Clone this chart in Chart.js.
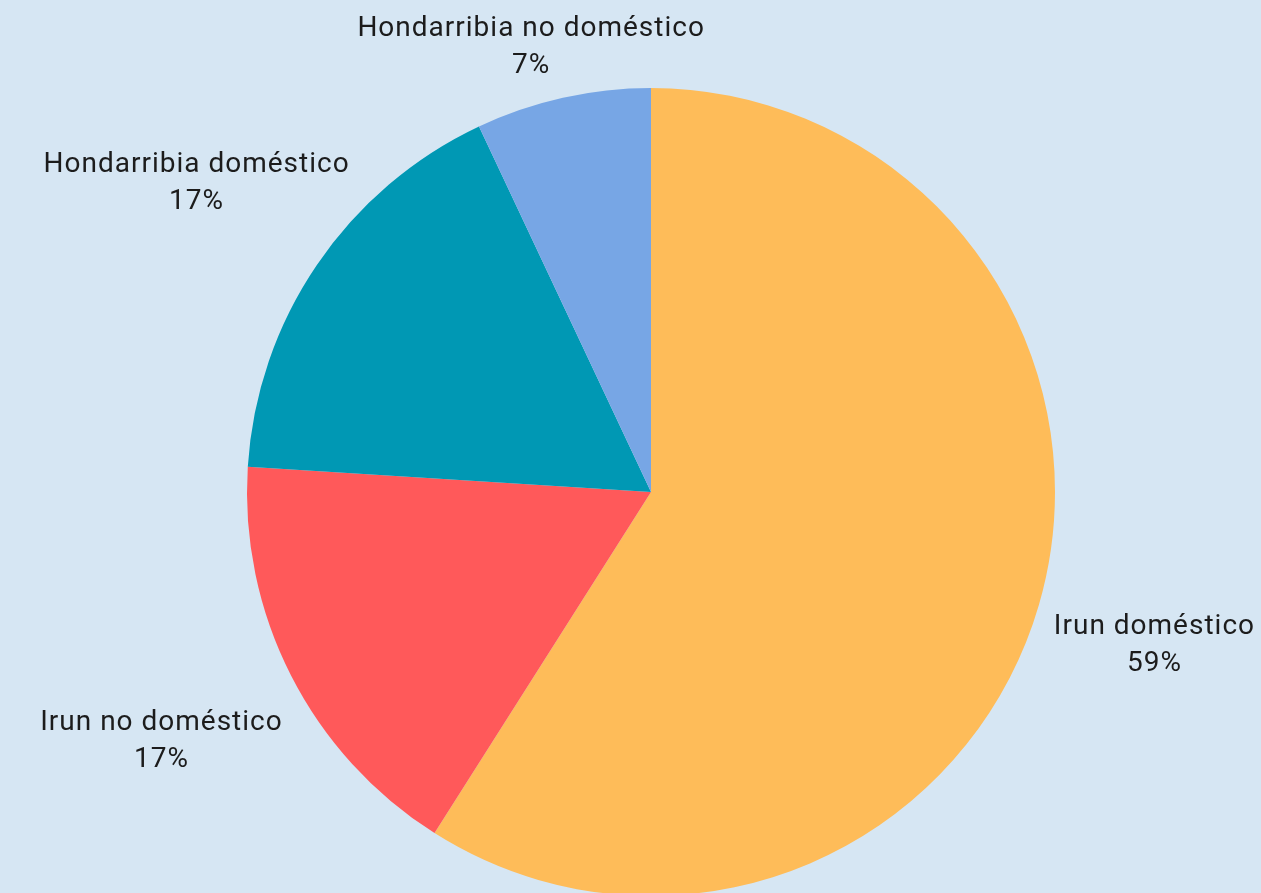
<!DOCTYPE html>
<html>
<head>
<meta charset="utf-8">
<script src="https://cdn.jsdelivr.net/npm/chart.js@4"></script>
<style>
    html, body { margin: 0; padding: 0; overflow: hidden; background: #d6e6f3; }
    #wrap { width: 1261px; height: 900px; position: relative; }
</style>
</head>
<body>
<div id="wrap"><canvas id="pieChart"></canvas></div>
<script>
// data
const labels = ['Irun doméstico', 'Irun no doméstico', 'Hondarribia doméstico', 'Hondarribia no doméstico'];
const values = [59, 17, 17, 7];
const colors = ['#febc59', '#ff595a', '#0098b4', '#77a6e5'];

// labels outside each slice: name on first line, percent under it
const outsideLabels = {
    id: 'outsideLabels',
    afterDatasetsDraw(chart) {
        const { ctx } = chart;
        const meta = chart.getDatasetMeta(0);
        const total = values.reduce((a, b) => a + b, 0);
        ctx.save();
        ctx.font = '28px Roboto, "Noto Sans", sans-serif';
        ctx.letterSpacing = '1px';
        ctx.fillStyle = '#1c1c1c';
        ctx.textAlign = 'center';
        ctx.textBaseline = 'middle';
        const lineH = 37;
        meta.data.forEach((arc, i) => {
            const mid = (arc.startAngle + arc.endAngle) / 2;
            const dist = arc.outerRadius * 1.36;
            let x = arc.x + Math.cos(mid) * dist;
            let y = arc.y + Math.sin(mid) * dist;
            const pct = Math.round(values[i] / total * 100) + '%';
            const w = Math.max(ctx.measureText(labels[i]).width, ctx.measureText(pct).width);
            const h = lineH * 2;
            // keep the text box inside the canvas
            x = Math.min(Math.max(x, w / 2 + 6), chart.width - w / 2 - 6);
            y = Math.max(y, h / 2 + 10);
            ctx.fillText(labels[i], x, y - lineH / 2);
            ctx.fillText(pct, x, y + lineH / 2);
        });
        ctx.restore();
    }
};

new Chart(document.getElementById('pieChart'), {
    type: 'pie',
    data: {
        labels: labels,
        datasets: [{
            data: values,
            backgroundColor: colors,
            borderWidth: 0,
        }]
    },
    options: {
        responsive: true,
        maintainAspectRatio: false,
        animation: false,
        layout: { padding: { top: 88, bottom: 4, left: 41, right: 0 } },
        plugins: {
            legend: { display: false },
            tooltip: { enabled: false }
        }
    },
    plugins: [outsideLabels]
});
</script>
</body>
</html>
